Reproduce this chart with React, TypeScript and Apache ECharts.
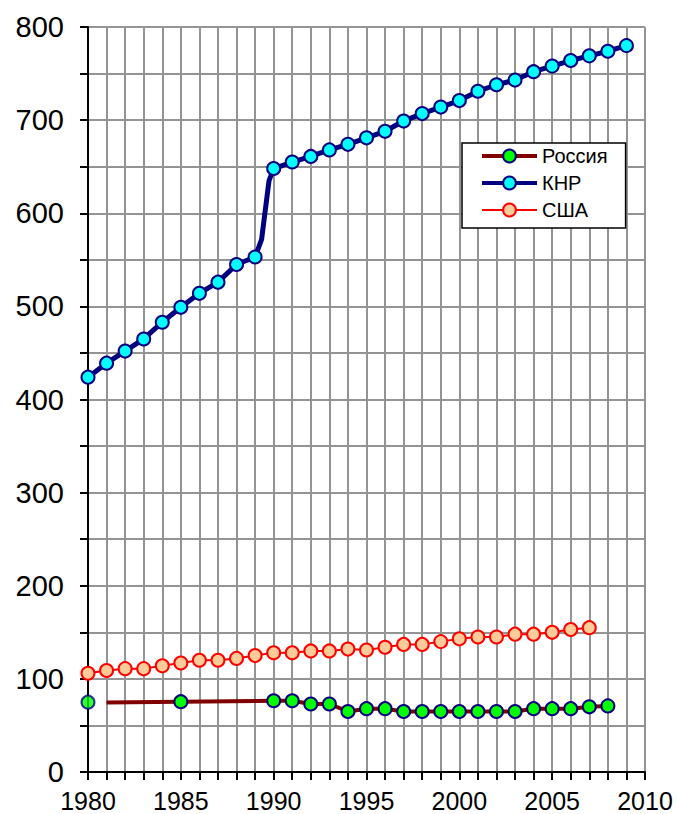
import React, { useEffect, useRef } from 'react';
import * as echarts from 'echarts';

const FONT = '"Liberation Sans", Arial, "DejaVu Sans", sans-serif';

// Legend / series names
const seriesNames = ['Россия', 'КНР', 'США'];

// China (КНР)
const chinaYears = [
  1980, 1981, 1982, 1983, 1984, 1985, 1986, 1987, 1988, 1989, 1989.35, 1989.75,
  1990, 1991, 1992, 1993, 1994, 1995, 1996, 1997, 1998, 1999,
  2000, 2001, 2002, 2003, 2004, 2005, 2006, 2007, 2008, 2009,
];
const chinaValues = [
  424, 439, 452, 465, 483, 499, 514, 526, 545, 553, 572, 635,
  648, 655, 661, 668, 674, 681, 688, 699, 707, 714,
  721, 731, 738, 743, 752, 758, 764, 769, 774, 780,
];

// USA (США)
const usaYears = [
  1980, 1981, 1982, 1983, 1984, 1985, 1986, 1987, 1988, 1989,
  1990, 1991, 1992, 1993, 1994, 1995, 1996, 1997, 1998, 1999,
  2000, 2001, 2002, 2003, 2004, 2005, 2006, 2007,
];
const usaValues = [
  106, 109, 111, 111, 114, 117, 120, 120, 122, 125,
  128, 128, 130, 130, 132, 131, 134, 137, 137, 140,
  143, 145, 145, 148, 148, 150, 153, 155,
];

// Russia (Россия)
const russiaIsolatedYear = 1980;
const russiaIsolatedValue = 75;
const russiaYears = [
  1981, 1985, 1990, 1991, 1992, 1993, 1994, 1995, 1996, 1997, 1998, 1999,
  2000, 2001, 2002, 2003, 2004, 2005, 2006, 2007, 2008,
];
const russiaValues = [
  74.5, 75.5, 76.5, 76.5, 73, 73, 65, 68, 68, 65, 65, 65,
  65, 65, 65, 65, 68, 68, 68, 70, 71,
];
const russiaUnmarkedYears = [1981];

// Tick labels
const xTickLabels = [1980, 1985, 1990, 1995, 2000, 2005, 2010];
const yTickLabels = [0, 100, 200, 300, 400, 500, 600, 700, 800];

export default function App() {
  const ref = useRef<HTMLDivElement>(null);

  useEffect(() => {
    const chart = echarts.init(ref.current as HTMLDivElement, null, { renderer: 'svg' });

    const russiaLine = { color: '#800000', width: 4 };
    const russiaItem = { color: '#00FF00', borderColor: '#000080', borderWidth: 2 };
    const chinaLine = { color: '#000080', width: 5 };
    const chinaItem = { color: '#00FFFF', borderColor: '#000080', borderWidth: 2 };
    const usaLine = { color: '#FF0000', width: 2 };
    const usaItem = { color: '#FFCC99', borderColor: '#FF0000', borderWidth: 2 };

    chart.setOption({
      animation: false,
      backgroundColor: '#ffffff',
      textStyle: { fontFamily: FONT },
      grid: { left: 88, right: 32, top: 27, bottom: 42, containLabel: false },
      legend: {
        data: [
          { name: seriesNames[0], lineStyle: { width: 4 } },
          { name: seriesNames[1], lineStyle: { width: 4 } },
          { name: seriesNames[2], lineStyle: { width: 2 } },
        ],
        orient: 'vertical',
        left: 462,
        top: 143,
        itemWidth: 55,
        itemHeight: 16,
        itemGap: 7,
        padding: [3, 18, 8, 18],
        borderColor: '#000000',
        borderWidth: 1.5,
        backgroundColor: '#ffffff',
        textStyle: { fontSize: 20, color: '#000000', fontFamily: FONT },
      },
      xAxis: {
        type: 'value',
        min: 1980,
        max: 2010,
        interval: 1,
        axisLine: { onZero: false, lineStyle: { color: '#000000', width: 2 } },
        axisTick: { show: true, length: 8, inside: false, lineStyle: { color: '#000000', width: 2 } },
        axisLabel: {
          formatter: (v: number) => (xTickLabels.includes(v) ? String(v) : ''),
          fontSize: 25,
          color: '#000000',
          margin: 16,
          fontFamily: FONT,
        },
        splitLine: { show: true, lineStyle: { color: '#949494', width: 2 } },
      },
      yAxis: {
        type: 'value',
        min: 0,
        max: 800,
        interval: 50,
        axisLine: { show: true, onZero: false, lineStyle: { color: '#000000', width: 2 } },
        axisTick: { show: true, length: 8, inside: false, lineStyle: { color: '#000000', width: 2 } },
        axisLabel: {
          formatter: (v: number) => (yTickLabels.includes(v) ? String(v) : ''),
          fontSize: 29,
          color: '#000000',
          margin: 24,
          fontFamily: FONT,
        },
        splitLine: { show: true, lineStyle: { color: '#949494', width: 2 } },
      },
      series: [
        {
          name: seriesNames[0],
          type: 'line',
          symbol: 'circle',
          symbolSize: 13,
          showAllSymbol: true,
          data: russiaYears.map((y, i) => ({
            value: [y, russiaValues[i]],
            symbol: russiaUnmarkedYears.includes(y) ? 'none' : 'circle',
          })),
          lineStyle: russiaLine,
          itemStyle: russiaItem,
          z: 3,
        },
        {
          name: 'Россия-1980',
          type: 'scatter',
          symbol: 'circle',
          symbolSize: 13,
          data: [[russiaIsolatedYear, russiaIsolatedValue]],
          itemStyle: russiaItem,
          z: 3,
        },
        {
          name: seriesNames[1],
          type: 'line',
          symbol: 'circle',
          symbolSize: 13,
          showAllSymbol: true,
          data: chinaYears.map((y, i) => ({
            value: [y, chinaValues[i]],
            symbol: Number.isInteger(y) ? 'circle' : 'none',
          })),
          lineStyle: chinaLine,
          itemStyle: chinaItem,
          z: 4,
        },
        {
          name: seriesNames[2],
          type: 'line',
          symbol: 'circle',
          symbolSize: 13,
          showAllSymbol: true,
          data: usaYears.map((y, i) => [y, usaValues[i]]),
          lineStyle: usaLine,
          itemStyle: usaItem,
          z: 3,
        },
      ],
    });

    return () => chart.dispose();
  }, []);

  return (
    <div
      ref={ref}
      style={{ position: 'absolute', left: 0, top: 0, width: 677, height: 814 }}
    />
  );
}
